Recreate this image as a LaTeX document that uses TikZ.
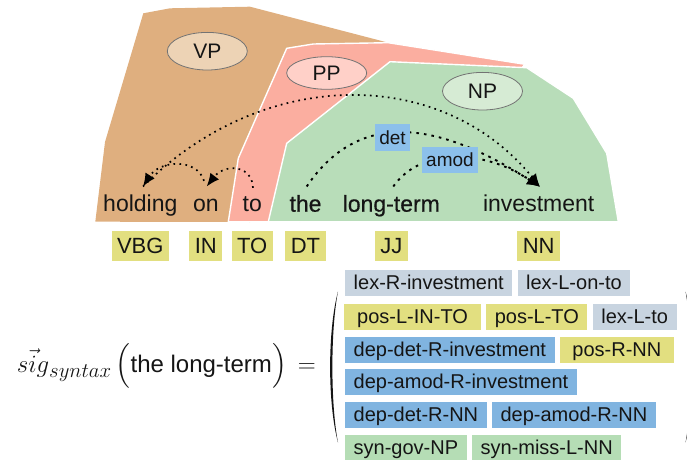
\documentclass[tikz,border=0pt]{standalone}
\usepackage[no-math]{fontspec}
\setmainfont{Liberation Sans}
\newfontfamily\strongfont[FakeBold=0.5]{Liberation Sans}
\usepackage{exscale}
\DeclareMathSizes{25}{25}{20}{15}
\usetikzlibrary{shapes.geometric,arrows.meta,positioning}

\definecolor{vpfill}{HTML}{DFAF7F}
\definecolor{ppfill}{HTML}{FBAEA0}
\definecolor{npfill}{HTML}{B8DDB9}
\definecolor{vplight}{HTML}{EDD3B5}
\definecolor{pplight}{HTML}{FFD0C8}
\definecolor{nplight}{HTML}{D6EBD4}
\definecolor{lexbox}{HTML}{C8D4E0}
\definecolor{posbox}{HTML}{E2DF80}
\definecolor{depbox}{HTML}{80B4E0}
\definecolor{synbox}{HTML}{B5DDB5}
\definecolor{arclabel}{HTML}{8CC0EB}
\definecolor{ink}{HTML}{151515}

\tikzset{
  region/.style={draw=white, line width=1.4pt, line join=round},
  phrase/.style={ellipse, draw=black!55, line width=0.8pt, minimum width=80pt,
    minimum height=37.6pt, inner sep=0pt, text=ink, font=\fontsize{21}{25}\selectfont},
  word/.style={anchor=base, inner sep=0pt, text height=17pt, text depth=5pt,
    text=ink, font=\fontsize{23}{28}\selectfont},
  strongword/.style={word, font=\fontsize{23}{28}\selectfont\strongfont},
  tag/.style={fill=posbox, inner xsep=5.5pt, inner ysep=7.15pt, text height=15.7pt,
    text depth=0pt, text=ink, font=\fontsize{22}{26}\selectfont},
  dotarc/.style={line width=1.7pt, dash pattern=on 1.7pt off 4.3pt,
    -{Latex[length=13pt,width=11pt]}},
  dasharc/.style={line width=1.9pt, dash pattern=on 2.6pt off 5pt,
    -{Latex[length=13pt,width=11pt]}},
  arclab/.style={fill=arclabel, inner xsep=4.4pt, inner ysep=0pt, minimum height=26.6pt,
    text height=13.7pt, text depth=0pt, text=ink, font=\fontsize{19}{23}\selectfont},
  feat/.style={anchor=west, inner xsep=8.5pt, inner ysep=0pt, minimum height=25.7pt,
    text height=16pt, text depth=2.5pt, text=ink, font=\fontsize{20}{24}\selectfont},
  lexf/.style={feat, fill=lexbox},
  posf/.style={feat, fill=posbox},
  depf/.style={feat, fill=depbox},
  synf/.style={feat, fill=synbox},
  gap/.style={right=5pt of #1},
}

\begin{document}
\begin{tikzpicture}[x=1pt, y=-1pt]
\useasboundingbox (0,0) rectangle (687,468);

% constituent regions, back to front
\fill[vpfill] (143.3,13.3) -- (170,8.3) -- (250,6.7) -- (388.3,42.7) -- (380,60)
  -- (250,222) -- (95.3,221.7) -- (105,142) -- cycle;
\filldraw[fill=ppfill, region] (286.7,48.3) -- (313.3,44) -- (388.3,42.7) -- (525,64.3)
  -- (520,70) -- (300,222) -- (228.3,221.7) -- (238.3,158.3) -- cycle;
\filldraw[fill=npfill, region] (390,61.7) -- (526.7,67.7) -- (573.3,98.3) -- (606.7,153.3)
  -- (618.3,221.7) -- (268.3,221.7) -- (286.7,143.3) -- cycle;

% phrase labels
\node[phrase, fill=vplight] (vp) at (207.3,51.2) {VP};
\node[phrase, fill=pplight, minimum height=32.6pt] (pp) at (326.7,73) {PP};
\node[phrase, fill=nplight] (np) at (482.5,91.2) {NP};

% words
\node[word] (holding) at (140.3,211.7) {holding};
\node[word] (on) at (205.8,211.7) {on};
\node[word] (to) at (252.2,211.7) {to};
\node[strongword] (the) at (305.5,211.7) {the};
\node[strongword] (longterm) at (391.3,211.7) {long-term};
\node[word] (investment) at (538.7,211.7) {investment};

% arc end points just above the words
\coordinate (hold-in) at ([xshift=2.7pt,yshift=8pt]holding.north);
\coordinate (on-in) at ([xshift=0.9pt,yshift=8pt]on.north);
\coordinate (on-out) at ([xshift=-1.8pt,yshift=13.7pt]on.north);
\coordinate (to-out) at ([xshift=0.8pt,yshift=6.7pt]to.north);
\coordinate (the-out) at ([xshift=1.2pt,yshift=8pt]the.north);
\coordinate (lt-out) at ([xshift=2pt,yshift=8pt]longterm.north);
\coordinate (inv-in) at ([xshift=1.3pt,yshift=7.7pt]investment.north);

% dependency arcs
\draw[dotarc] (hold-in) .. controls (263,66) and (442,66) .. (inv-in);
\draw[dotarc] (on-out) .. controls (197,158) and (160,160) .. (hold-in);
\draw[dotarc] (to-out) .. controls (252,164) and (224,164) .. (on-in);
\draw[dasharc] (the-out) .. controls (355,115) and (429,115) .. (inv-in);
\draw[dasharc] (lt-out) .. controls (420,148) and (482,148) .. (inv-in);
\node[arclab] (det) at (392.5,137.5) {det};
\node[arclab] (amod) at (450,160) {amod};

% part-of-speech tags
\coordinate (tagrow) at (0,246);
\node[tag] (t-vbg) at (holding |- tagrow) {VBG};
\node[tag] (t-in) at (on |- tagrow) {IN};
\node[tag] (t-to) at (to |- tagrow) {TO};
\node[tag] (t-dt) at (the |- tagrow) {DT};
\node[tag] (t-jj) at (longterm |- tagrow) {JJ};
\node[tag] (t-nn) at (investment |- tagrow) {NN};

% signature formula
\node[anchor=base west, inner sep=0pt, text=ink] (sig) at (16.7,372)
  {\fontsize{25}{30}\selectfont$\vec{sig}_{syntax}\left(\vrule height 30pt depth 18pt width 0pt
   \mbox{\fontsize{24}{28}\selectfont the long-term}\right) \,=$};

% feature vector
\node[lexf] (f11) at (345,282.9) {lex-R-investment};
\node[lexf, gap=f11] (f12) {lex-L-on-to};
\node[posf, minimum width=136.7pt] (f21) at (344,316.9) {pos-L-IN-TO};
\node[posf, gap=f21] (f22) {pos-L-TO};
\node[lexf, gap=f22] (f23) {lex-L-to};
\node[depf] (f31) at (345,349.9) {dep-det-R-investment};
\node[posf, gap=f31, minimum width=114pt] (f32) {pos-R-NN};
\node[depf] (f41) at (345,381.9) {dep-amod-R-investment};
\node[depf] (f51) at (345,414.9) {dep-det-R-NN};
\node[depf, gap=f51] (f52) {dep-amod-R-NN};
\node[synf] (f61) at (345,447.5) {syn-gov-NP};
\node[synf, gap=f61] (f62) {syn-miss-L-NN};

% large parentheses around the vector
\fill[ink] (338,291.5) .. controls (327.5,330) and (327.5,404) .. (338,442.5)
  .. controls (330.5,404) and (330.5,330) .. cycle;
\fill[ink] (685.5,291.5) .. controls (696,330) and (696,404) .. (685.5,442.5)
  .. controls (693,404) and (693,330) .. cycle;
\end{tikzpicture}
\end{document}
